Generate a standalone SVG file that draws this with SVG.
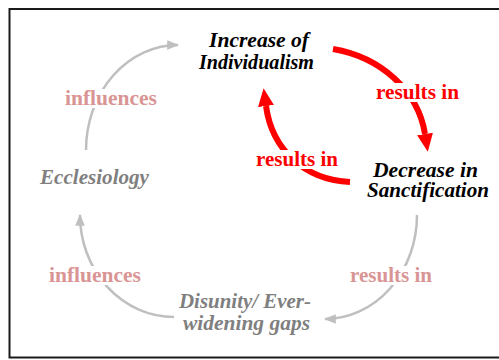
<svg xmlns="http://www.w3.org/2000/svg" width="499" height="360" viewBox="0 0 499 360">
<style>
.node{font-family:"Liberation Serif","Times New Roman",serif;font-weight:bold;font-style:italic;font-size:20px}
.dark{fill:#000}
.gray{fill:#7f7f7f}
.lbl{font-family:"Liberation Serif","Times New Roman",serif;font-weight:bold;font-size:20px}
.red{fill:#ff0000}
.pink{fill:#d99594}
.bg{fill:#fff}
.gline{fill:none;stroke:#bfbfbf;stroke-width:2.5;marker-end:url(#gh)}
.rline{fill:none;stroke:#ff0000;stroke-width:6;marker-end:url(#rh)}
</style>
<defs>
<marker id="gh" markerUnits="userSpaceOnUse" markerWidth="12" markerHeight="10" viewBox="0 0 10 8" refX="9" refY="4" orient="auto">
<path d="M0,0 L10,4 L0,8 Z" fill="#bfbfbf"/>
</marker>
<marker id="rh" markerUnits="userSpaceOnUse" markerWidth="18" markerHeight="16" viewBox="0 0 18 16" refX="0" refY="8" orient="auto">
<path d="M0,0 L18,8 L0,16 Z" fill="#ff0000"/>
</marker>
</defs>
<rect x="0" y="0" width="499" height="360" fill="#fff"/>
<rect x="9.5" y="9" width="495" height="348.5" fill="none" stroke="#1a1a1a" stroke-width="2"/>
<g id="connectors">
<path class="gline" d="M86,150 A92,105 0 0 1 178,45"/>
<path class="rline" d="M333,49 C380,57 418,90 425,134"/>
<path class="rline" d="M350,182 C305,180 272,150 266,106"/>
<path class="gline" d="M417,215 A92,104 0 0 1 325,319"/>
<path class="gline" d="M174,317 A94,102 0 0 1 80,215"/>
<g id="label-influences-top">
<rect class="bg" x="63" y="89" width="96" height="19"/>
<text class="lbl pink" x="65" y="105" textLength="92" lengthAdjust="spacingAndGlyphs">influences</text>
</g>
<g id="label-results-top">
<rect class="bg" x="374" y="83" width="87" height="19"/>
<text class="lbl red" x="376" y="99" textLength="83" lengthAdjust="spacingAndGlyphs">results in</text>
</g>
<g id="label-results-left">
<rect class="bg" x="254" y="150" width="86" height="19"/>
<text class="lbl red" x="256" y="166" textLength="82" lengthAdjust="spacingAndGlyphs">results in</text>
</g>
<g id="label-results-bottom">
<rect class="bg" x="348" y="266" width="86" height="19"/>
<text class="lbl pink" x="350" y="282" textLength="82" lengthAdjust="spacingAndGlyphs">results in</text>
</g>
<g id="label-influences-bottom">
<rect class="bg" x="47" y="266" width="96" height="19"/>
<text class="lbl pink" x="49" y="282" textLength="92" lengthAdjust="spacingAndGlyphs">influences</text>
</g>
</g>
<g id="node-individualism">
<text class="node dark" x="209" y="47" textLength="100" lengthAdjust="spacingAndGlyphs">Increase of</text>
<text class="node dark" x="199" y="69" textLength="115" lengthAdjust="spacingAndGlyphs">Individualism</text>
</g>
<g id="node-sanctification">
<text class="node dark" x="373" y="177" textLength="105" lengthAdjust="spacingAndGlyphs">Decrease in</text>
<text class="node dark" x="367" y="197" textLength="122" lengthAdjust="spacingAndGlyphs">Sanctification</text>
</g>
<g id="node-ecclesiology">
<text class="node gray" x="40" y="184" textLength="109" lengthAdjust="spacingAndGlyphs">Ecclesiology</text>
</g>
<g id="node-disunity">
<text class="node gray" x="179" y="308" textLength="132" lengthAdjust="spacingAndGlyphs">Disunity/ Ever-</text>
<text class="node gray" x="183" y="330" textLength="127" lengthAdjust="spacingAndGlyphs">widening gaps</text>
</g>
</svg>
